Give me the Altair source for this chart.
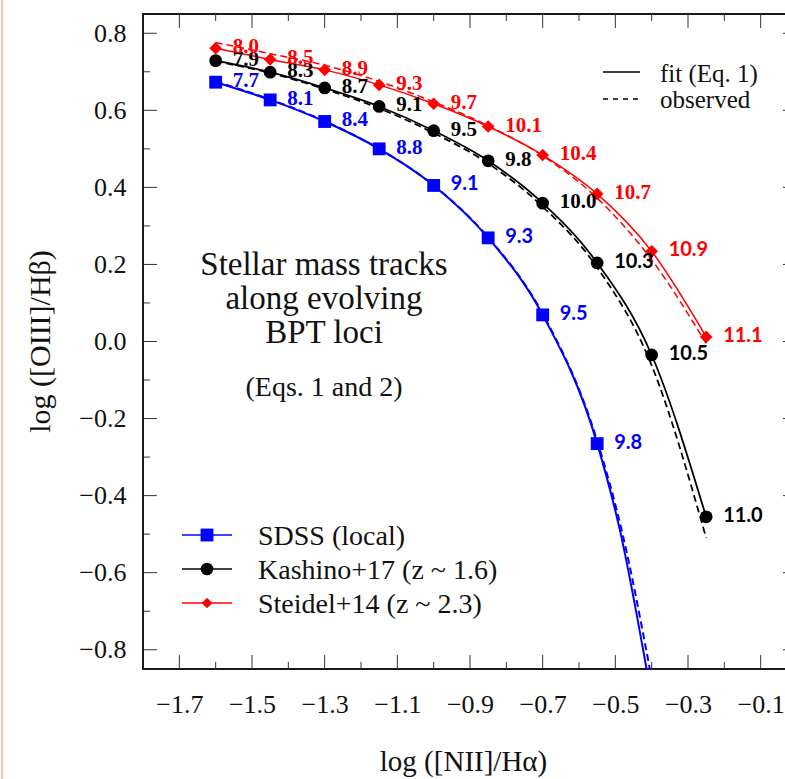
import altair as alt
import pandas as pd

# ---------------- data ----------------
x_vals = [-1.6, -1.45, -1.3, -1.15, -1.0, -0.85, -0.7, -0.55, -0.4, -0.25]

sdss_y = [0.673, 0.627, 0.571, 0.500, 0.405, 0.269, 0.069, -0.265]
sdss_labels = ["7.7", "8.1", "8.4", "8.8", "9.1", "9.3", "9.5", "9.8"]
sdss_fit_tail_x = [-0.485, -0.414]
sdss_fit_tail_y = [-0.50, -0.85]
sdss_obs_y = [0.675, 0.628, 0.572, 0.500, 0.405, 0.270, 0.072, -0.258]
sdss_obs_tail_x = [-0.48, -0.405]
sdss_obs_tail_y = [-0.50, -0.85]

kash_y = [0.729, 0.699, 0.658, 0.610, 0.547, 0.469, 0.359, 0.204, -0.035, -0.455]
kash_labels = ["7.9", "8.3", "8.7", "9.1", "9.5", "9.8", "10.0", "10.3", "10.5", "11.0"]
kash_obs_y = [0.727, 0.697, 0.655, 0.605, 0.541, 0.462, 0.350, 0.192, -0.062, -0.51]

steidel_y = [0.761, 0.732, 0.705, 0.666, 0.617, 0.558, 0.484, 0.383, 0.234, 0.012]
steidel_labels = ["8.0", "8.5", "8.9", "9.3", "9.7", "10.1", "10.4", "10.7", "10.9", "11.1"]
steidel_obs_y = [0.776, 0.747, 0.717, 0.675, 0.622, 0.560, 0.482, 0.372, 0.212, -0.005]

series_names = ["SDSS (local)", "Kashino+17 (z ~ 1.6)", "Steidel+14 (z ~ 2.3)"]
series_colors = ["#0000ff", "#000000", "#ff0000"]
series_shapes = ["square", "circle", "diamond"]

x_major = [-1.7, -1.5, -1.3, -1.1, -0.9, -0.7, -0.5, -0.3, -0.1]
x_minor = [-1.6, -1.4, -1.2, -1.0, -0.8, -0.6, -0.4, -0.2]
y_major = [-0.8, -0.6, -0.4, -0.2, 0.0, 0.2, 0.4, 0.6, 0.8]
y_minor = [-0.7, -0.5, -0.3, -0.1, 0.1, 0.3, 0.5, 0.7]

annotation_lines = ["Stellar mass tracks", "along evolving", "BPT loci"]
annotation_sub = "(Eqs. 1 and 2)"
style_legend = ["fit (Eq. 1)", "observed"]

# ---------------- tables ----------------
# index from which the mass labels are set in the sans font
sans_from = {series_names[0]: 4, series_names[1]: 7, series_names[2]: 8}

fit_rows, obs_rows, pt_rows = [], [], []
for name, ys_, labs, fx, fy, ox, oy_tail, oy in [
    (series_names[0], sdss_y, sdss_labels, sdss_fit_tail_x, sdss_fit_tail_y,
     sdss_obs_tail_x, sdss_obs_tail_y, sdss_obs_y),
    (series_names[1], kash_y, kash_labels, [], [], [], [], kash_obs_y),
    (series_names[2], steidel_y, steidel_labels, [], [], [], [], steidel_obs_y),
]:
    for i, (xv, yv, lab) in enumerate(zip(x_vals, ys_, labs)):
        fit_rows.append({"series": name, "x": xv, "y": yv})
        pt_rows.append({"series": name, "x": xv, "y": yv, "label": lab,
                        "grp": "sans" if i >= sans_from[name] else "serif"})
    for xv, yv in zip(fx, fy):
        fit_rows.append({"series": name, "x": xv, "y": yv})
    for xv, yv in zip(x_vals, oy):
        obs_rows.append({"series": name, "x": xv, "y": yv})
    for xv, yv in zip(ox, oy_tail):
        obs_rows.append({"series": name, "x": xv, "y": yv})

fit_df = pd.DataFrame(fit_rows)
obs_df = pd.DataFrame(obs_rows)
pt_df = pd.DataFrame(pt_rows)

# ---------------- style ----------------
SERIF = "Liberation Serif"
SANS = "Lato"
W, H = 654, 655
TXT = "#111111"

xs = alt.Scale(domain=[-1.8, 0.0], nice=False, zero=False)
ys = alt.Scale(domain=[-0.85, 0.85], nice=False, zero=False)
cscale = alt.Scale(domain=series_names, range=series_colors)
swscale = alt.Scale(domain=series_names, range=[2.0, 1.5, 1.5])

x_axis = alt.Axis(values=x_major, format=".1f", ticks=False, domain=False, grid=False,
                  labelFont=SERIF, labelFontSize=26, labelPadding=22, labelColor=TXT,
                  labelFlush=False, labelOverlap=False,
                  title="log ([NII]/Hα)", titleFont=SERIF, titleFontSize=29,
                  titleFontWeight="normal", titleColor=TXT, titleX=320, titleY=101,
                  titleBaseline="alphabetic", titleAlign="center")
y_axis = alt.Axis(values=y_major, format=".1f", ticks=False, domain=False, grid=False,
                  labelFont=SERIF, labelFontSize=26, labelPadding=17, labelColor=TXT,
                  labelFlush=False, labelOverlap=False,
                  title="log ([OIII]/Hβ)", titleFont=SERIF, titleFontSize=30,
                  titleFontWeight="normal", titleColor=TXT, titleX=-94, titleY=327,
                  titleBaseline="alphabetic", titleAlign="center", titleAngle=270)


def X():
    return alt.X("x:Q", scale=xs, axis=x_axis)


def Y():
    return alt.Y("y:Q", scale=ys, axis=y_axis)


fit = alt.Chart(fit_df).mark_line(interpolate="monotone", clip=True).encode(
    x=X(), y=Y(),
    color=alt.Color("series:N", scale=cscale, legend=None),
    strokeWidth=alt.StrokeWidth("series:N", scale=swscale, legend=None),
)
obs = alt.Chart(obs_df).mark_line(interpolate="monotone", clip=True, strokeDash=[7, 4]).encode(
    x=X(), y=Y(),
    color=alt.Color("series:N", scale=cscale, legend=None),
    strokeWidth=alt.StrokeWidth("series:N", scale=swscale, legend=None),
)
pts = alt.Chart(pt_df).mark_point(filled=True, opacity=1).encode(
    x=X(), y=Y(),
    color=alt.Color("series:N", scale=cscale, legend=None),
    shape=alt.Shape("series:N", scale=alt.Scale(domain=series_names, range=series_shapes), legend=None),
    size=alt.Size("series:N", scale=alt.Scale(domain=series_names, range=[165, 160, 115]), legend=None),
)
lab_serif = alt.Chart(pt_df).transform_filter(alt.datum.grp == "serif").mark_text(
    align="left", baseline="middle", dx=17, dy=-1, font=SERIF, fontSize=21, fontWeight="bold"
).encode(
    x=X(), y=Y(), text="label:N",
    color=alt.Color("series:N", scale=cscale, legend=None),
)
lab_sans = alt.Chart(pt_df).transform_filter(alt.datum.grp == "sans").mark_text(
    align="left", baseline="middle", dx=17, dy=-1, font=SANS, fontSize=20, fontWeight="bold"
).encode(
    x=X(), y=Y(), text="label:N",
    color=alt.Color("series:N", scale=cscale, legend=None),
)

# inward ticks on all four sides
TICK = "#333333"


def xticks(vals, length):
    d = pd.DataFrame({"x": vals})
    bottom = alt.Chart(d).mark_rule(color=TICK, strokeWidth=1).encode(
        x=X(), y=alt.value(H), y2=alt.value(H - length))
    top = alt.Chart(d).mark_rule(color=TICK, strokeWidth=1).encode(
        x=X(), y=alt.value(0), y2=alt.value(length))
    return [bottom, top]


def yticks(vals, length):
    d = pd.DataFrame({"y": vals})
    left = alt.Chart(d).mark_rule(color=TICK, strokeWidth=1).encode(
        y=Y(), x=alt.value(0), x2=alt.value(length))
    right = alt.Chart(d).mark_rule(color=TICK, strokeWidth=1).encode(
        y=Y(), x=alt.value(W), x2=alt.value(W - length))
    return [left, right]


ticks = xticks(x_major, 14) + xticks(x_minor, 7) + yticks(y_major, 14) + yticks(y_minor, 7)

# annotation
ann_df = pd.DataFrame({"t": [0]})
ann = alt.Chart(ann_df).mark_text(
    font=SERIF, fontSize=33, align="center", baseline="alphabetic", lineHeight=34, color=TXT
).encode(x=alt.value(181), y=alt.value(261), text=alt.value(annotation_lines))
ann2 = alt.Chart(ann_df).mark_text(
    font=SERIF, fontSize=28, align="center", baseline="alphabetic", color=TXT
).encode(x=alt.value(181), y=alt.value(382), text=alt.value(annotation_sub))

# top-right style legend
sl_solid = alt.Chart(ann_df).mark_rule(color="#000000", strokeWidth=1.5).encode(
    x=alt.value(460), x2=alt.value(497), y=alt.value(58))
sl_dash = alt.Chart(ann_df).mark_rule(color="#000000", strokeWidth=1.5, strokeDash=[5, 5]).encode(
    x=alt.value(460), x2=alt.value(497), y=alt.value(85))
sl_t1 = alt.Chart(ann_df).mark_text(font=SERIF, fontSize=25, align="left", baseline="alphabetic", color=TXT).encode(
    x=alt.value(517), y=alt.value(68), text=alt.value(style_legend[0]))
sl_t2 = alt.Chart(ann_df).mark_text(font=SERIF, fontSize=25, align="left", baseline="alphabetic", color=TXT).encode(
    x=alt.value(517), y=alt.value(94), text=alt.value(style_legend[1]))

# bottom-left series legend
leg_layers = []
row_y = [521, 555, 589]
for name, col, shp, sz, ry in zip(series_names, series_colors, series_shapes, [165, 160, 115], row_y):
    leg_layers.append(alt.Chart(ann_df).mark_rule(color=col, strokeWidth=1.5).encode(
        x=alt.value(39), x2=alt.value(89), y=alt.value(ry)))
    leg_layers.append(alt.Chart(ann_df).mark_point(color=col, filled=True, opacity=1, shape=shp, size=sz).encode(
        x=alt.value(64), y=alt.value(ry)))
    leg_layers.append(alt.Chart(ann_df).mark_text(font=SERIF, fontSize=28, align="left",
                                                  baseline="alphabetic", color=TXT).encode(
        x=alt.value(115), y=alt.value(ry + 10), text=alt.value(name)))

# page edge line (left border of the source page)
edge = alt.Chart(ann_df).mark_rule(color="#f2c3b8", strokeWidth=2).encode(
    x=alt.value(-141), y=alt.value(-14), y2=alt.value(H + 110))

chart = alt.layer(
    fit, *ticks, obs, pts, lab_serif, lab_sans, ann, ann2,
    sl_solid, sl_dash, sl_t1, sl_t2, *leg_layers, edge
).properties(
    width=W, height=H,
    padding={"left": 143, "top": 14, "right": -12, "bottom": 110},
    autosize=alt.AutoSizeParams(type="none"),
    background="#ffffff",
).configure_view(stroke="#1a1a1a", strokeWidth=2)

chart.save("out.html", embed_options={"renderer": "svg", "actions": False})
